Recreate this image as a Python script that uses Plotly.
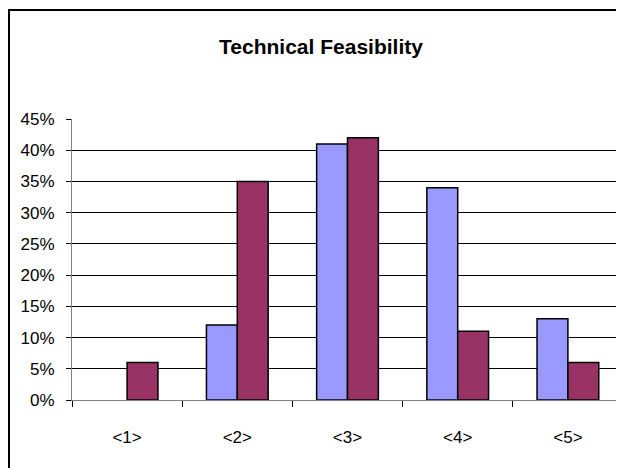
import plotly.graph_objects as go

categories = ["<1>", "<2>", "<3>", "<4>", "<5>"]
series_a = [0.00, 0.12, 0.41, 0.34, 0.13]
series_b = [0.06, 0.35, 0.42, 0.11, 0.06]
y_ticks = [0, 0.05, 0.10, 0.15, 0.20, 0.25, 0.30, 0.35, 0.40, 0.45]
y_tick_labels = ["0%", "5%", "10%", "15%", "20%", "25%", "30%", "35%", "40%", "45%"]

FONT = "Liberation Sans Narrow, Arial Narrow, Liberation Sans, Arial, sans-serif"
OFF = 8  # page body margin

fig = go.Figure()
fig.add_trace(go.Bar(x=categories, y=series_a, name="A",
                     marker=dict(color="#9999FF",
                                 line=dict(color="black", width=[0 if v == 0 else 1.5 for v in series_a]))))
fig.add_trace(go.Bar(x=categories, y=series_b, name="B",
                     marker=dict(color="#993366",
                                 line=dict(color="black", width=[0 if v == 0 else 1.5 for v in series_b]))))

W, H = 624, 468
L, T = 72 - OFF, 119 - OFF
R = W - (623 - OFF)
B = H - (400 - OFF)
pw, ph = W - L - R, H - T - B

fig.update_layout(
    width=W, height=H,
    margin=dict(l=L, r=R, t=T, b=B, pad=0),
    paper_bgcolor="white", plot_bgcolor="white",
    showlegend=False,
    barmode="group", bargap=0.44, bargroupgap=0,
    title=dict(text="<b>Technical Feasibility</b>", x=(321 - OFF) / W, xanchor="center",
               y=1 - (47 - OFF) / H, yanchor="middle", yref="container",
               font=dict(family=FONT, size=21, color="black")),
    font=dict(family=FONT, color="black"),
)
fig.update_xaxes(
    type="category", showgrid=False, showline=True, linecolor="#808080", linewidth=1,
    ticks="outside", tickson="boundaries", ticklen=6, tickcolor="black",
    tickfont=dict(family=FONT, size=17, color="black"), ticklabelstandoff=22,
)
fig.update_yaxes(
    range=[0, 0.45], tickvals=y_ticks, ticktext=y_tick_labels,
    showgrid=True, gridcolor="black", gridwidth=1,
    showline=True, linecolor="#808080", linewidth=1,
    ticks="outside", ticklen=5, tickcolor="black",
    tickfont=dict(family=FONT, size=17, color="black"), ticklabelstandoff=8,
    zeroline=False,
)
# chart border
fig.add_shape(type="rect", xref="paper", yref="paper",
              x0=(8 - OFF + 1 - L) / pw, x1=1 + (R + 20) / pw,
              y0=-(B + 20) / ph, y1=1 + (T - (10 - OFF)) / ph,
              line=dict(color="black", width=2), fillcolor="rgba(0,0,0,0)", layer="below")

fig.write_html("out.html")
